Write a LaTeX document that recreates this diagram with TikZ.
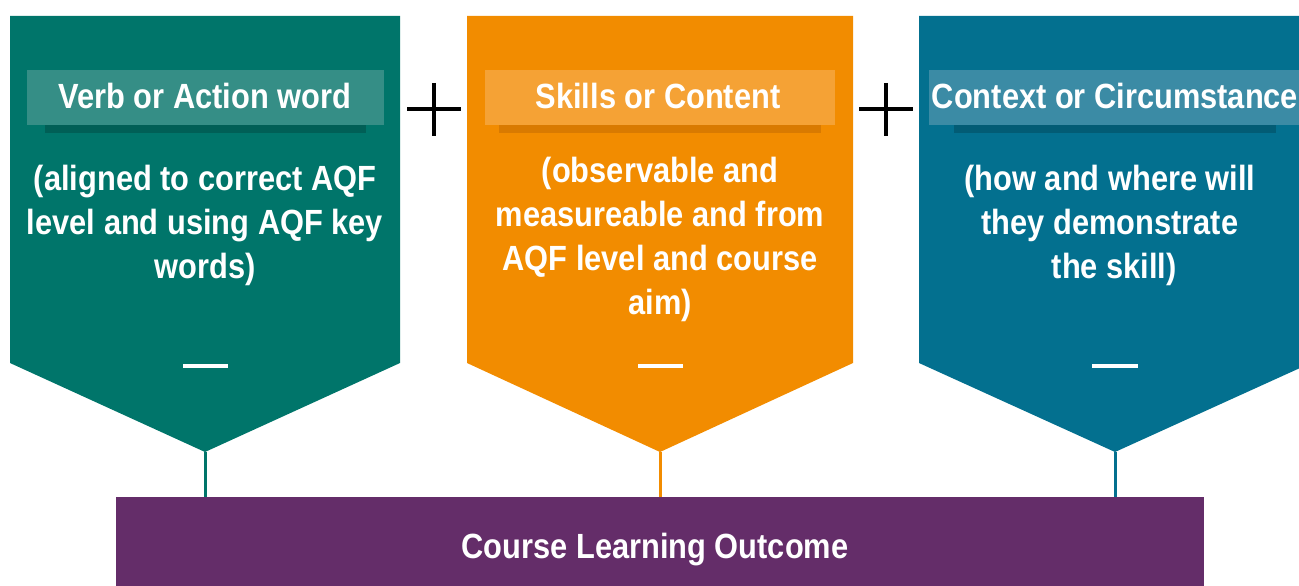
\documentclass[tikz,border=0pt]{standalone}
\usepackage{fontspec}
\setmainfont[FakeStretch=0.88]{Liberation Sans}
\definecolor{cgreen}{RGB}{0,117,106}
\definecolor{cgreenband}{RGB}{53,142,134}
\definecolor{cgreenshadow}{RGB}{0,95,86}
\definecolor{corange}{RGB}{242,140,0}
\definecolor{corangeband}{RGB}{245,162,53}
\definecolor{corangeshadow}{RGB}{217,122,0}
\definecolor{cblue}{RGB}{3,112,143}
\definecolor{cblueband}{RGB}{59,139,165}
\definecolor{cblueshadow}{RGB}{2,92,117}
\definecolor{cpurple}{RGB}{100,45,105}
\tikzset{
  headtext/.style={text=white, font=\fontsize{35}{42}\selectfont\bfseries, inner sep=0pt, anchor=base},
  bodytext/.style={text=white, font=\fontsize{35}{44}\selectfont\bfseries, inner sep=0pt, align=center, anchor=north},
  plusline/.style={line width=4pt, black},
  dashline/.style={line width=4pt, white},
  link/.style={line width=3pt},
}
\begin{document}
\begin{tikzpicture}[x=1pt,y=-1pt]
\useasboundingbox (0,0) rectangle (1299,586);
% pentagons
\fill[cgreen] (10,16) -- (400,16) -- (400,363) -- (205,452) -- (10,363) -- cycle;
\coordinate (tipA) at (205,452);
\fill[corange] (467,16) -- (853,16) -- (853,363) -- (660,452) -- (467,363) -- cycle;
\coordinate (tipB) at (660,452);
\fill[cblue] (919,16) -- (1311,16) -- (1311,363) -- (1115,452) -- (919,363) -- cycle;
\coordinate (tipC) at (1115,452);
% header bands
\fill[cgreenshadow] (45,124) rectangle (366,133);
\fill[cgreenband] (27,70) rectangle (384,125);
\fill[corangeshadow] (499,124) rectangle (821,133);
\fill[corangeband] (485,70) rectangle (835,125);
\fill[cblueshadow] (954,124) rectangle (1276,133);
\fill[cblueband] (929,70) rectangle (1301,125);
% header texts
\node[headtext] (hA) at (205,108) {Verb or Action word};
\node[headtext] (hB) at (658,108) {Skills or Content};
\node[headtext] (hC) at (1115,108) {Context or Circumstance};
% body texts
\node[bodytext] (bA) at (205,165) {(aligned to correct AQF\\level and using AQF key\\words)};
\node[bodytext] (bB) at (660,157) {(observable and\\measureable and from\\AQF level and course\\aim)};
\node[bodytext] (bC) at (1110,165) {(how and where will\\they demonstrate\\\ the skill)};
% dashes
\draw[dashline] (183,366) -- (228,366);
\draw[dashline] (638,366) -- (683,366);
\draw[dashline] (1092,366) -- (1138,366);
% plus signs
\draw[plusline] (407,109) -- (461,109);
\draw[plusline] (434,83) -- (434,136);
\draw[plusline] (859,109) -- (913,109);
\draw[plusline] (886,83) -- (886,136);
% outcome box
\node[fill=cpurple, minimum width=1088pt, minimum height=110pt, anchor=north west, inner sep=0pt] (clo) at (116,497) {};
\node[headtext] (cloText) at (655,558) {Course Learning Outcome};
% connectors
\draw[link, cgreen] (tipA) -- (tipA |- clo.north);
\draw[link, corange] (tipB) -- (tipB |- clo.north);
\draw[link, cblue] (tipC) -- (tipC |- clo.north);
\end{tikzpicture}
\end{document}
